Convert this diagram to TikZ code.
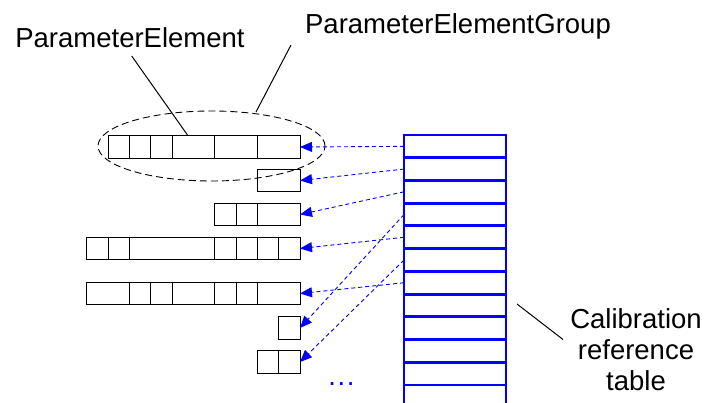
\documentclass[tikz,border=0pt]{standalone}
\usepackage{fontspec}
\setmainfont{Liberation Sans}
\usetikzlibrary{arrows.meta,shapes.geometric}
\definecolor{tblue}{RGB}{0,0,255}
\begin{document}
\begin{tikzpicture}[x=1pt,y=-1pt,
  cell/.style={draw=black,line width=0.9pt,inner sep=0,outer sep=0,minimum height=22.5},
  divider/.style={draw=black,line width=0.9pt},
  trow/.style={draw=tblue,line width=2.9pt},
  link/.style={draw=tblue,line width=0.9pt,dash pattern=on 4pt off 3pt,-{Triangle[length=12pt,width=10pt]}},
  lbl/.style={font=\fontsize{27.5}{31.3}\selectfont,inner sep=0},
  leader/.style={draw=black,line width=1pt},
  group/.style={draw=black,ellipse,line width=0.9pt,dash pattern=on 7pt off 4pt,inner sep=0,minimum width=227,minimum height=70}]
\clip (0,0) rectangle (705,403);
\fill[white] (0,0) rectangle (705,403);
% parameter element rows
\node[cell,minimum width=192] (b1) at (204,147) {};
\node[cell,minimum width=42.67] (b2) at (278.67,180.5) {};
\node[cell,minimum width=85.33] (b3) at (257.33,214.5) {};
\node[cell,minimum width=213.33] (b4) at (193.33,248.5) {};
\node[cell,minimum width=213.33] (b5) at (193.33,293.5) {};
\node[cell,minimum width=21.33] (b6) at (289.33,328) {};
\node[cell,minimum width=42.67] (b7) at (278.67,362) {};
\foreach \x in {129.33,150.67,172,214.67,257.33} \draw[divider] (\x,135.75) -- (\x,158.25);
\foreach \x in {236,257.33} \draw[divider] (\x,203.25) -- (\x,225.75);
\foreach \x in {108,129.33,214.67,236,257.33,278.67} \draw[divider] (\x,237.25) -- (\x,259.75);
\foreach \x in {129.33,150.67,172,214.67,236,257.33} \draw[divider] (\x,282.25) -- (\x,304.75);
\draw[divider] (278.67,350.75) -- (278.67,373.25);
% group ellipse
\node[group] (grp) at (211.5,146) {};
% calibration table rows
\foreach \i in {1,...,12} \path (455,{135+(\i-0.5)*22.73}) node[inner sep=0,outer sep=0,minimum width=102,minimum height=22.73] (t\i) {};
\draw[link] (t1.west) -- (b1.east);
\draw[link] (t2.west) -- (b2.east);
\draw[link] (t3.west) -- (b3.east);
\draw[link] (t4.west) -- (b6.east);
\draw[link] (t5.west) -- (b4.east);
\draw[link] (t6.west) -- (b7.east);
\draw[link] (t7.west) -- (b5.east);
\foreach \i in {1,...,12} \draw[trow] (t\i.north west) rectangle (t\i.south east);
% dots
\node[lbl,text=tblue,anchor=base] (dots) at (341.5,385.5) {.\kern1.6pt.\kern1.6pt.};
% labels
\node[lbl,anchor=base] (pe) at (130,47.7) {ParameterElement};
\node[lbl,anchor=base] (peg) at (458,33.3) {ParameterElementGroup};
\node[lbl,align=center,anchor=base] (crt) at (636,390.7) {Calibration\\reference\\table};
% leader lines
\coordinate (peA) at (131.7,56);
\coordinate (peB) at (188,135.75);
\coordinate (pegA) at (291,45);
\coordinate (pegB) at (256,112);
\coordinate (crtA) at (517,304);
\coordinate (crtB) at (563,339.5);
\draw[leader] (peA) -- (peB);
\draw[leader] (pegA) -- (pegB);
\draw[leader] (crtA) -- (crtB);
\end{tikzpicture}
\end{document}
